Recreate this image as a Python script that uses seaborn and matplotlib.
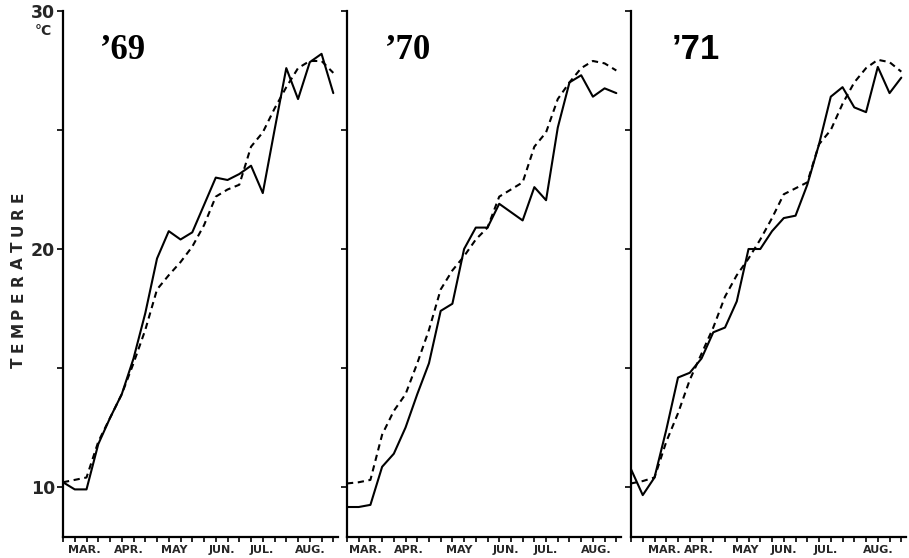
import numpy as np
import pandas as pd
import matplotlib
matplotlib.use("Agg")
import matplotlib.pyplot as plt
import seaborn as sns

# ---------------- data ----------------
weeks = list(range(24))
months = ["MAR.", "APR.", "MAY", "JUN.", "JUL.", "AUG."]
years = ["\u201969", "\u201970", "\u201971"]

solid_69 = [10.2, 9.9, 9.9, 11.8, 12.9, 13.9, 15.4, 17.3, 19.6, 20.75, 20.4, 20.7,
            21.85, 23.0, 22.9, 23.15, 23.5, 22.35, 25.0, 27.6, 26.3, 27.85, 28.2, 26.55]
dashed_69 = [10.2, 10.3, 10.4, 11.9, 12.9, 13.9, 15.2, 16.6, 18.3, 18.9, 19.45, 20.1,
             21.0, 22.2, 22.5, 22.7, 24.3, 24.9, 25.9, 26.8, 27.6, 27.9, 27.9, 27.4]

solid_70 = [9.16, 9.16, 9.25, 10.85, 11.4, 12.5, 13.9, 15.2, 17.4, 17.7, 20.0, 20.9,
            20.9, 21.9, 21.55, 21.2, 22.6, 22.05, 25.1, 27.0, 27.3, 26.4, 26.75, 26.55]
dashed_70 = [10.15, 10.2, 10.3, 12.2, 13.2, 13.9, 15.2, 16.6, 18.3, 19.1, 19.7, 20.4,
             20.9, 22.2, 22.5, 22.8, 24.3, 24.9, 26.3, 27.0, 27.6, 27.9, 27.8, 27.5]

solid_71 = [10.75, 9.66, 10.4, 12.4, 14.6, 14.8, 15.4, 16.5, 16.7, 17.8, 20.0, 20.0,
            20.75, 21.3, 21.4, 22.7, 24.4, 26.4, 26.8, 25.95, 25.75, 27.65, 26.55, 27.2]
dashed_71 = [10.15, 10.25, 10.4, 11.9, 13.1, 14.5, 15.6, 16.7, 18.0, 18.9, 19.6, 20.4,
             21.3, 22.3, 22.55, 22.8, 24.4, 25.0, 26.1, 27.0, 27.6, 27.95, 27.85, 27.45]

y_major = [10, 20, 30]
y_minor = [15, 25]
y_labels = ["10", "20", "30"]

# ---------------- layout ----------------
W, H = 909, 558
fig = plt.figure(figsize=(W / 100, H / 100), dpi=100)
sns.set_style("ticks")
plt.rcParams["font.family"] = ["DejaVu Sans"]

panels = [
    dict(solid=solid_69, dashed=dashed_69, left=63, right=338,
         mpos=[1.8, 5.6, 9.45, 13.5, 16.95, 21.0], title_font="Liberation Serif", tx=3.15),
    dict(solid=solid_70, dashed=dashed_70, left=347, right=621,
         mpos=[1.6, 5.3, 9.6, 13.6, 17.0, 21.3], title_font="Liberation Serif", tx=3.2),
    dict(solid=solid_71, dashed=dashed_71, left=631, right=906,
         mpos=[2.85, 5.75, 9.75, 13.0, 16.6, 21.0], title_font="Liberation Sans", tx=3.5),
]
top_px, bot_px = 11, 537

for i, p in enumerate(panels):
    ax = fig.add_axes([p["left"] / W, 1 - bot_px / H,
                       (p["right"] - p["left"]) / W, (bot_px - top_px) / H])
    df = pd.DataFrame({"week": weeks * 2,
                       "temp": p["solid"] + p["dashed"],
                       "kind": ["obs"] * 24 + ["mean"] * 24})
    sns.lineplot(data=df[df.kind == "obs"], x="week", y="temp", ax=ax,
                 color="black", lw=1.5, legend=False)
    sns.lineplot(data=df[df.kind == "mean"], x="week", y="temp", ax=ax,
                 color="black", lw=1.5, legend=False, dashes=False)
    ax.lines[-1].set_linestyle((0, (3, 2.2)))
    ax.set_xlim(0, 23.4)
    ax.set_ylim(7.9, 30)
    ax.set_xlabel("")
    ax.set_ylabel("")
    for s in ["top", "right"]:
        ax.spines[s].set_visible(False)
    for s in ["left", "bottom"]:
        ax.spines[s].set_linewidth(1.6)
        ax.spines[s].set_color("black")
    ax.xaxis.remove_overlapping_locs = False
    # weekly ticks on bottom
    ax.set_xticks(weeks)
    ax.set_xticklabels([])
    ax.tick_params(axis="x", which="major", length=3.5, width=1.2, direction="out", color="black")
    ax.set_xticks(p["mpos"], minor=True)
    ax.set_xticklabels(months, minor=True, fontsize=8, fontweight="bold")
    ax.tick_params(axis="x", which="minor", length=0, pad=6)
    # y ticks
    ax.set_yticks(y_major + y_minor)
    if i == 0:
        ax.set_yticklabels(y_labels + ["", ""], fontsize=12.5, fontweight="bold")
    else:
        ax.set_yticklabels([])
    ax.tick_params(axis="y", length=4, width=1.2, direction="out", pad=1.5, color="black")
    ax.text(p["tx"], 28.0, years[i], fontsize=25, fontweight="bold",
            family=p["title_font"], ha="left", va="baseline", color="black")
    ax.patch.set_alpha(0)

# degree unit under the 30 label
fig.text(43 / W, 1 - 31 / H, "\u00b0C", fontsize=10, fontweight="bold",
         ha="center", va="center")

# spaced vertical axis title
word = "TEMPERATURE"
y0, y1 = 363, 197
for k, ch in enumerate(word):
    yy = y0 + (y1 - y0) * k / (len(word) - 1)
    fig.text(18 / W, 1 - yy / H, ch, rotation=90, fontsize=11, fontweight="bold",
             ha="center", va="center")

fig.savefig("out.png", dpi=100, facecolor="white")
